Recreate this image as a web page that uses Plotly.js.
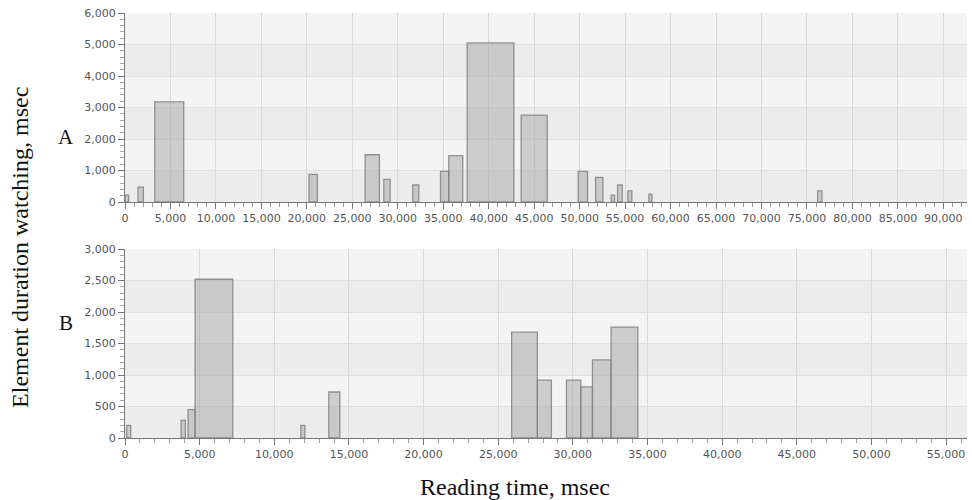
<!DOCTYPE html>
<html>
<head>
<meta charset="utf-8">
<script src="https://cdn.plot.ly/plotly-3.0.1.min.js"></script>
<style>html,body{margin:0;padding:0;background:#fff;}#chart{width:972px;height:500px;}</style>
</head>
<body>
<div id="chart"></div>
<script>
// Panel A: intervals (start, end in msec) and durations
var aStart = [0, 1430, 3270, 20240, 26410, 28460, 31650, 34700, 35610, 37630, 43570, 49840, 51750, 53470, 54170, 55300, 57620, 76170];
var aEnd   = [400, 2020, 6460, 21160, 27980, 29160, 32310, 35610, 37150, 42770, 46430, 50870, 52560, 53840, 54680, 55740, 57950, 76650];
var aVal   = [220, 470, 3180, 880, 1500, 720, 540, 970, 1470, 5050, 2760, 970, 780, 220, 540, 350, 250, 350];

// Panel B
var bStart = [110, 3755, 4225, 4695, 11780, 13650, 25900, 27620, 29570, 30530, 31310, 32560];
var bEnd   = [380, 4045, 4695, 7220, 12050, 14390, 27620, 28560, 30530, 31310, 32560, 34350];
var bVal   = [200, 280, 450, 2520, 200, 730, 1680, 920, 920, 810, 1240, 1760];

var panelLabels = ['A', 'B'];
var xTitle = 'Reading time, msec';
var yTitle = 'Element duration watching, msec';

function mid(s, e) { return s.map(function (v, i) { return (v + e[i]) / 2; }); }
function wid(s, e) { return s.map(function (v, i) { return e[i] - v; }); }

var barMarker = { color: 'rgba(165,165,165,0.5)', line: { color: 'rgba(130,130,130,0.85)', width: 1.3 } };

var traces = [
  { type: 'bar', x: mid(aStart, aEnd), y: aVal, width: wid(aStart, aEnd), base: 0, xaxis: 'x', yaxis: 'y', marker: barMarker, hoverinfo: 'x+y' },
  { type: 'bar', x: mid(bStart, bEnd), y: bVal, width: wid(bStart, bEnd), base: 0, xaxis: 'x2', yaxis: 'y2', marker: barMarker, hoverinfo: 'x+y' }
];

var tickFont = { family: 'DejaVu Sans, sans-serif', size: 11, color: '#555' };
function xAx(range, anchor) {
  return {
    range: range, anchor: anchor, tickformat: ',', dtick: 5000, tick0: 0,
    showgrid: true, gridcolor: '#d9d9d9', gridwidth: 1, zeroline: false,
    showline: true, linecolor: '#777', linewidth: 1,
    ticks: 'outside', ticklen: 6, tickcolor: '#777', tickfont: tickFont,
    minor: { dtick: 1000, ticks: 'outside', ticklen: 4, tickcolor: '#999', showgrid: false },
    fixedrange: true
  };
}
function yAx(range, domain, dtick, minorDtick, anchor) {
  return {
    range: range, domain: domain, anchor: anchor, tickformat: ',', dtick: dtick, tick0: 0,
    showgrid: true, gridcolor: '#e0e0e0', gridwidth: 1, zeroline: false,
    showline: true, linecolor: '#777', linewidth: 1,
    ticks: 'outside', ticklen: 6, tickcolor: '#777', tickfont: tickFont,
    minor: { dtick: minorDtick, ticks: 'outside', ticklen: 4, tickcolor: '#aaa', showgrid: false },
    fixedrange: true
  };
}

// alternating horizontal bands
var shapes = [];
[[0, 1000], [2000, 3000], [4000, 5000]].forEach(function (b) {
  shapes.push({ type: 'rect', xref: 'x domain', yref: 'y', x0: 0, x1: 1, y0: b[0], y1: b[1], fillcolor: '#ececec', line: { width: 0 }, layer: 'below' });
});
[[0, 500], [1000, 1500], [2000, 2500]].forEach(function (b) {
  shapes.push({ type: 'rect', xref: 'x2 domain', yref: 'y2', x0: 0, x1: 1, y0: b[0], y1: b[1], fillcolor: '#ececec', line: { width: 0 }, layer: 'below' });
});

var serif = 'Liberation Serif, Times New Roman, serif';
var layout = {
  width: 972, height: 500,
  margin: { l: 125, r: 5, t: 13, b: 62 },
  paper_bgcolor: '#ffffff', plot_bgcolor: '#f4f4f4',
  showlegend: false, bargap: 0,
  xaxis: xAx([0, 92600], 'y'),
  yaxis: yAx([0, 6000], [0.5553, 1], 1000, 200, 'x'),
  xaxis2: xAx([0, 56400], 'y2'),
  yaxis2: yAx([0, 3000], [0, 0.4447], 500, 100, 'x2'),
  shapes: shapes,
  annotations: [
    { text: panelLabels[0], xref: 'paper', yref: 'paper', x: -0.07, y: 0.708, xanchor: 'center', yanchor: 'middle', showarrow: false, font: { family: serif, size: 21, color: '#111' } },
    { text: panelLabels[1], xref: 'paper', yref: 'paper', x: -0.07, y: 0.271, xanchor: 'center', yanchor: 'middle', showarrow: false, font: { family: serif, size: 21, color: '#111' } },
    { text: yTitle, xref: 'paper', yref: 'paper', x: -0.125, y: 0.449, xanchor: 'center', yanchor: 'middle', textangle: -90, showarrow: false, font: { family: serif, size: 24, color: '#111' } },
    { text: xTitle, xref: 'paper', yref: 'paper', x: 0.463, y: -0.115, xanchor: 'center', yanchor: 'middle', showarrow: false, font: { family: serif, size: 24, color: '#111' } }
  ]
};

Plotly.newPlot('chart', traces, layout, { displayModeBar: false, staticPlot: true });
</script>
</body>
</html>
